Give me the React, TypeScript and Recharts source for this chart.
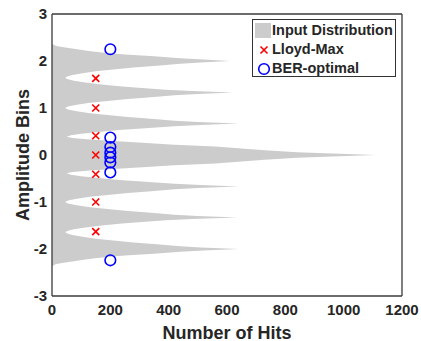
import React from 'react';
import { ComposedChart, Area, Scatter, XAxis, YAxis, Legend, Label } from 'recharts';

const distAmp = [
  2.36, 2.32, 2.29, 2.26, 2.22, 2.18, 2.14, 2.1, 2.06, 2.03, 2.0,
  1.97, 1.94, 1.9, 1.86, 1.82, 1.78, 1.74, 1.7, 1.67, 1.64,
  1.61, 1.58, 1.54, 1.5, 1.46, 1.42, 1.39, 1.36, 1.33,
  1.3, 1.27, 1.23, 1.19, 1.15, 1.11, 1.07, 1.03, 1.0,
  0.97, 0.93, 0.89, 0.85, 0.81, 0.77, 0.73, 0.7, 0.67,
  0.64, 0.61, 0.57, 0.53, 0.49, 0.45, 0.42, 0.39,
  0.36, 0.33, 0.3, 0.26, 0.22, 0.18, 0.14, 0.1, 0.06, 0.03, 0.0,
  -0.03, -0.06, -0.1, -0.14, -0.18, -0.22, -0.26, -0.3, -0.33, -0.36, -0.39,
  -0.42, -0.45, -0.49, -0.53, -0.57, -0.61, -0.64, -0.67,
  -0.7, -0.73, -0.77, -0.81, -0.85, -0.89, -0.93, -0.97, -1.0,
  -1.03, -1.07, -1.11, -1.15, -1.19, -1.23, -1.27, -1.3, -1.33,
  -1.36, -1.39, -1.42, -1.46, -1.5, -1.54, -1.58, -1.61, -1.64,
  -1.67, -1.7, -1.74, -1.78, -1.82, -1.86, -1.9, -1.94, -1.97, -2.0,
  -2.03, -2.06, -2.1, -2.14, -2.18, -2.22, -2.26, -2.29, -2.32, -2.36,
];
const distHits = [
  0, 15, 40, 75, 120, 170, 250, 350, 440, 520, 610,
  510, 440, 360, 280, 210, 150, 105, 70, 52, 45,
  55, 75, 115, 170, 240, 320, 390, 480, 620,
  500, 420, 340, 260, 190, 130, 85, 55, 45,
  55, 85, 130, 190, 260, 340, 420, 500, 640,
  510, 420, 320, 230, 160, 100, 65, 50,
  70, 130, 210, 310, 420, 560, 650, 730, 840, 960, 1110,
  960, 840, 730, 650, 560, 420, 310, 210, 130, 70, 50,
  65, 100, 160, 230, 320, 420, 510, 640,
  500, 420, 340, 260, 190, 130, 85, 55, 45,
  55, 85, 130, 190, 260, 340, 420, 500, 635,
  480, 390, 320, 240, 170, 115, 75, 55, 45,
  52, 70, 105, 150, 210, 280, 360, 440, 510, 640,
  520, 440, 350, 250, 170, 120, 75, 40, 15, 0,
];

const lloydAmp = [1.63, 1.0, 0.41, 0, -0.41, -1.0, -1.63];
const lloydHits = [150, 150, 150, 150, 150, 150, 150];
const berAmp = [2.25, 0.37, 0.17, 0.05, -0.05, -0.16, -0.37, -2.24];
const berHits = [200, 200, 200, 200, 200, 200, 200, 200];

const xTicks = [0, 200, 400, 600, 800, 1000, 1200];
const yTicks = [-3, -2, -1, 0, 1, 2, 3];

const distData = distAmp.map((a, i) => ({ amp: a, hits: distHits[i] }));
const lloydData = lloydAmp.map((a, i) => ({ amp: a, hits: lloydHits[i] }));
const berData = berAmp.map((a, i) => ({ amp: a, hits: berHits[i] }));

const FONT = '"Liberation Sans", Arial, sans-serif';
const AXIS = '#3a3a3a';
const TXT = '#262626';
const tickStyle = { fontSize: 15, fontWeight: 'bold', fill: TXT, fontFamily: FONT };

const CrossShape = (props: any) => {
  const { cx, cy } = props;
  const s = 3.5;
  return (
    <path
      d={`M${cx - s},${cy - s}L${cx + s},${cy + s}M${cx - s},${cy + s}L${cx + s},${cy - s}`}
      stroke="#ff0000"
      strokeWidth={1.6}
      fill="none"
    />
  );
};

const CircleShape = (props: any) => {
  const { cx, cy } = props;
  return <circle cx={cx} cy={cy} r={5.3} stroke="#0000ff" strokeWidth={1.6} fill="none" />;
};

const LegendBox = () => (
  <div
    style={{
      position: 'relative',
      width: 142,
      height: 56,
      border: '1.5px solid #333',
      background: '#fff',
      fontFamily: FONT,
      fontWeight: 'bold',
      fontSize: 14.5,
      color: TXT,
    }}
  >
    <div style={{ position: 'absolute', left: 2, top: 3, width: 16, height: 15, background: '#cccccc' }} />
    <div style={{ position: 'absolute', left: 19, top: 2, lineHeight: '17px', whiteSpace: 'nowrap' }}>Input Distribution</div>
    <svg style={{ position: 'absolute', left: 5, top: 24 }} width={12} height={12}>
      <path d="M2.5,2.5L9.5,9.5M2.5,9.5L9.5,2.5" stroke="#ff0000" strokeWidth={1.6} />
    </svg>
    <div style={{ position: 'absolute', left: 19, top: 21, lineHeight: '17px', whiteSpace: 'nowrap' }}>Lloyd-Max</div>
    <svg style={{ position: 'absolute', left: 4, top: 42 }} width={14} height={14}>
      <circle cx={7} cy={7} r={5.3} stroke="#0000ff" strokeWidth={1.6} fill="none" />
    </svg>
    <div style={{ position: 'absolute', left: 19, top: 40, lineHeight: '17px', whiteSpace: 'nowrap' }}>BER-optimal</div>
  </div>
);

export default function App() {
  return (
    <div style={{ position: 'absolute', left: 0, top: 0, width: 421, height: 341, background: '#fff' }}>
      <ComposedChart
        width={421}
        height={341}
        layout="vertical"
        margin={{ top: 14, right: 19, bottom: 0, left: 0 }}
      >
        <XAxis
          xAxisId="bottomTicks"
          type="number"
          domain={[0, 1200]}
          ticks={xTicks}
          allowDataOverflow
          height={1}
          mirror
          stroke={AXIS}
          strokeWidth={1.3}
          tickSize={5}
          tick={false}
        />
        <XAxis
          xAxisId={0}
          type="number"
          dataKey="hits"
          domain={[0, 1200]}
          ticks={xTicks}
          allowDataOverflow
          height={45}
          axisLine={false}
          tickLine={false}
          tickSize={0}
          tickMargin={8}
          tick={tickStyle}
        >
          <Label
            value="Number of Hits"
            position="insideBottom"
            offset={2.5}
            style={{ fontSize: 18, fontWeight: 'bold', fill: TXT, fontFamily: FONT }}
          />
        </XAxis>
        <XAxis
          xAxisId="top"
          orientation="top"
          type="number"
          domain={[0, 1200]}
          ticks={xTicks}
          allowDataOverflow
          height={1}
          mirror
          stroke={AXIS}
          strokeWidth={1.3}
          tickSize={5}
          tick={false}
        />
        <YAxis
          yAxisId="leftTicks"
          type="number"
          domain={[-3, 3]}
          ticks={yTicks}
          reversed
          allowDataOverflow
          width={1}
          mirror
          stroke={AXIS}
          strokeWidth={1.3}
          tickSize={5}
          tick={false}
        />
        <YAxis
          yAxisId={0}
          type="number"
          dataKey="amp"
          domain={[-3, 3]}
          ticks={yTicks}
          reversed
          allowDataOverflow
          width={52}
          axisLine={false}
          tickLine={false}
          tickSize={0}
          tickMargin={5}
          tick={tickStyle}
        >
          <Label
            value="Amplitude Bins"
            angle={-90}
            position="center"
            dx={-3}
            style={{ fontSize: 18, fontWeight: 'bold', fill: TXT, fontFamily: FONT, textAnchor: 'middle' }}
          />
        </YAxis>
        <YAxis
          yAxisId="right"
          orientation="right"
          type="number"
          domain={[-3, 3]}
          ticks={yTicks}
          reversed
          allowDataOverflow
          width={1}
          mirror
          stroke={AXIS}
          strokeWidth={1.3}
          tickSize={5}
          tick={false}
        />
        <Area
          data={distData}
          dataKey="hits"
          type="linear"
          fill="#cccccc"
          fillOpacity={1}
          stroke="none"
          dot={false}
          activeDot={false}
          isAnimationActive={false}
          name="Input Distribution"
        />
        <Scatter data={lloydData} shape={CrossShape} isAnimationActive={false} name="Lloyd-Max" />
        <Scatter data={berData} shape={CircleShape} isAnimationActive={false} name="BER-optimal" />
        <Legend
          layout="vertical"
          align="center"
          verticalAlign="middle"
          content={() => <LegendBox />}
          wrapperStyle={{ position: 'absolute', left: 252, top: 19, width: 'auto', height: 'auto' }}
        />
      </ComposedChart>
    </div>
  );
}
